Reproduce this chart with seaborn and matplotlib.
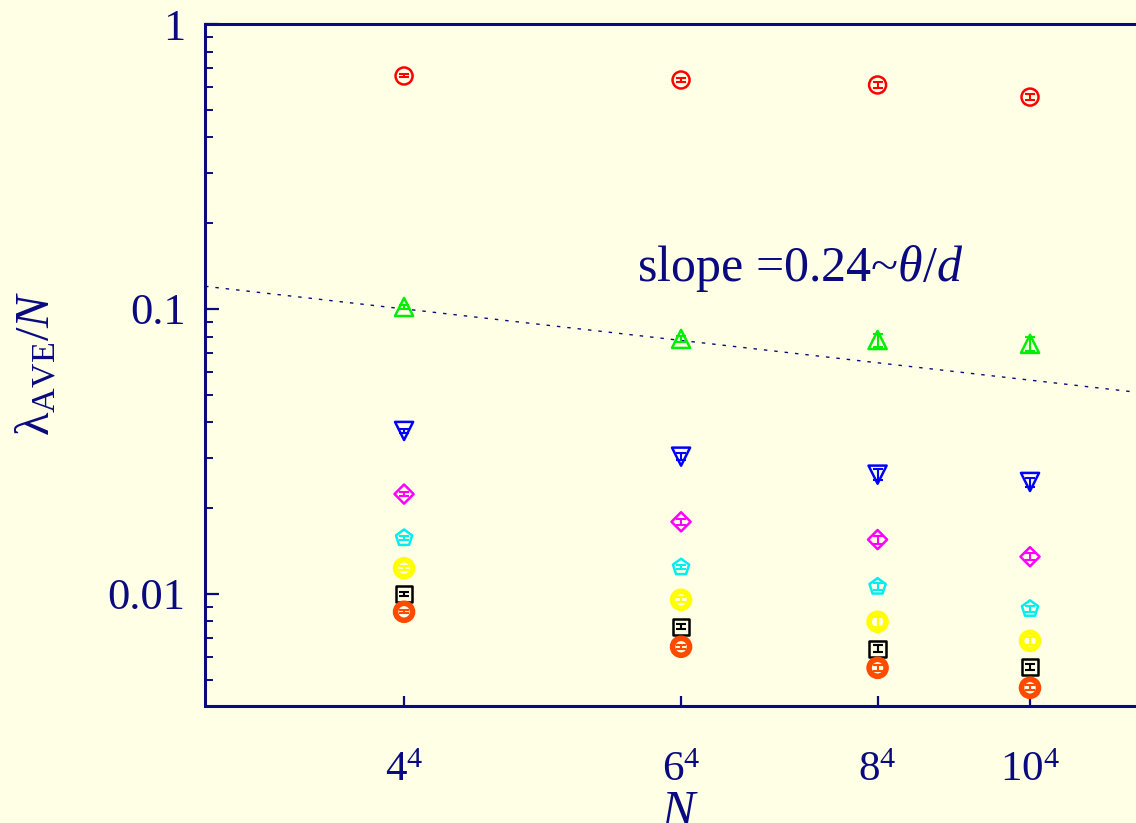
import numpy as np
import pandas as pd
import matplotlib
matplotlib.use("Agg")
import matplotlib.pyplot as plt
import seaborn as sns

# ---- data -------------------------------------------------------------
L_sizes = [4, 6, 8, 10]                       # lattice extent, N = L^4
x_tick_labels = [r"$4^4$", r"$6^4$", r"$8^4$", r"$10^4$"]

red_vals     = [0.657, 0.636, 0.611, 0.554]
green_vals   = [0.1016, 0.0785, 0.0778, 0.0754]
blue_vals    = [0.0373, 0.0303, 0.0262, 0.0247]
magenta_vals = [0.0224, 0.0179, 0.0155, 0.0135]
cyan_vals    = [0.0157, 0.0124, 0.0106, 0.00886]
yellow_vals  = [0.0123, 0.00953, 0.00798, 0.00684]
black_vals   = [0.0100, 0.00766, 0.00641, 0.00554]
orange_vals  = [0.00865, 0.00652, 0.00550, 0.00468]

red_err     = [0.008, 0.010, 0.014, 0.014]
green_err   = [0.0015, 0.0020, 0.0040, 0.0040]
blue_err    = [0.0005, 0.0008, 0.0012, 0.0009]
magenta_err = [0.0003, 0.0004, 0.0005, 0.0004]
cyan_err    = [0.0002, 0.0002, 0.0003, 0.0002]
yellow_err  = [0.0002, 0.0002, 0.0003, 0.0002]
black_err   = [0.00015, 0.00015, 0.00018, 0.00015]
orange_err  = [0.0001, 0.0001, 0.00012, 0.0001]

# power-law guide line  y = amp * (N / N0)^(-exp)
guide_N0 = 256.0
guide_amp = 0.1
guide_exp = 0.157
y_ticks = [0.01, 0.1, 1]
y_tick_labels = ["0.01", "0.1", "1"]

# ---- style ------------------------------------------------------------
sns.set_theme(style="ticks")
navy = "#0a0a80"
bg = "#ffffe6"
plt.rcParams["font.family"] = ["Liberation Serif", "DejaVu Serif"]
plt.rcParams["mathtext.fontset"] = "custom"
plt.rcParams["mathtext.rm"] = "Liberation Serif"
plt.rcParams["mathtext.it"] = "Liberation Serif:italic"
plt.rcParams["mathtext.bf"] = "Liberation Serif:bold"

fig = plt.figure(figsize=(11.36, 8.23), dpi=100, facecolor=bg)
ax = fig.add_axes([205 / 1136, 117 / 823, 931 / 1136, 682 / 823])
ax.set_facecolor(bg)
ax.set_xscale("log")
ax.set_yscale("log")
ax.set_xlim(79.8, 18600)
ax.set_ylim(0.00404, 1.0)

N = np.array(L_sizes, dtype=float) ** 4

series = [
    ("red", red_vals, red_err, "#ff0000", "o", 150, 1.8),
    ("green", green_vals, green_err, "#00ee00", "^", 170, 1.8),
    ("blue", blue_vals, blue_err, "#0000ff", "v", 170, 1.8),
    ("magenta", magenta_vals, magenta_err, "#ff00ff", "D", 95, 1.8),
    ("cyan", cyan_vals, cyan_err, "#00eeee", "p", 150, 1.8),
    ("yellow", yellow_vals, yellow_err, "#ffff00", "o", 150, 4.0),
    ("black", black_vals, black_err, "#000000", "s", 140, 1.8),
    ("orange", orange_vals, orange_err, "#ff4a00", "o", 150, 4.0),
]

for name, vals, errs, col, mk, size, lw in series:
    df = pd.DataFrame({"N": N, "val": vals})
    sns.scatterplot(data=df, x="N", y="val", marker=mk, s=size,
                    color=col, facecolor="none", edgecolor=col,
                    linewidth=lw, ax=ax, zorder=3, legend=False)
    ax.errorbar(N, vals, yerr=errs, fmt="none", ecolor=col,
                elinewidth=1.5, capsize=3.5, capthick=1.5, zorder=4)

# guide line across the full axis range
gx = np.array(ax.get_xlim())
gy = guide_amp * (gx / guide_N0) ** (-guide_exp)
sns.lineplot(x=gx, y=gy, color=navy, linewidth=1.0, ax=ax, zorder=2)
ax.lines[-1].set_linestyle((0, (2.5, 5)))

ax.text(1000, 0.139, r"slope =0.24~$\theta/d$", color=navy, fontsize=36,
        ha="left", va="center")

# ---- axes decoration --------------------------------------------------
for side in ["left", "bottom", "top"]:
    ax.spines[side].set_color(navy)
    ax.spines[side].set_linewidth(2.2)
ax.spines["right"].set_visible(False)

ax.set_xticks(N)
ax.set_xticklabels(x_tick_labels)
ax.xaxis.set_minor_locator(matplotlib.ticker.NullLocator())
ax.set_yticks(y_ticks)
ax.set_yticklabels(y_tick_labels)
ax.yaxis.set_minor_locator(matplotlib.ticker.LogLocator(base=10, subs=np.arange(2, 10)))
ax.yaxis.set_minor_formatter(matplotlib.ticker.NullFormatter())

ax.tick_params(axis="x", which="major", direction="in", length=7, width=1.6,
               color=navy, labelcolor=navy, labelsize=31, pad=33,
               top=False, bottom=True)
ax.tick_params(axis="y", which="major", direction="in", length=10, width=1.6,
               color=navy, labelcolor=navy, labelsize=32, pad=14,
               left=True, right=False)
ax.tick_params(axis="y", which="minor", direction="in", length=6, width=1.4,
               color=navy, left=True, right=False)

ax.set_xlabel(r"$N$", color=navy, fontsize=36)
ax.set_ylabel(r"$\mathrm{\lambda}_{\mathrm{AVE}}/N$", color=navy, fontsize=35)
ax.xaxis.set_label_coords(0.51, -0.122)
ax.yaxis.set_label_coords(-0.157, 0.503)

fig.savefig("out.png", dpi=100, facecolor=bg)
